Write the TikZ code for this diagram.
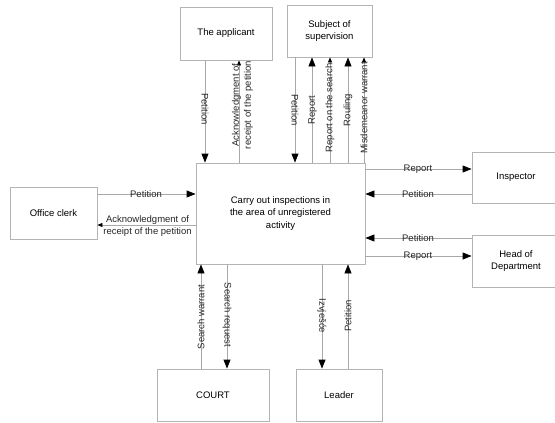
\documentclass[tikz,border=0pt]{standalone}
\usepackage{fontspec}
\setmainfont{Liberation Sans}
\usetikzlibrary{arrows.meta}
\definecolor{linegray}{HTML}{A8A8A8}
\definecolor{boxgray}{HTML}{B4B4B4}
\tikzset{
  box/.style={draw=boxgray, line width=0.8pt, fill=white, align=center, inner sep=0pt, font=\fontsize{9.5}{12.5}\selectfont},
  flow/.style={draw=linegray, line width=0.8pt, -{Triangle[length=9pt,width=7pt,fill=black,color=black]}},
  flowsmall/.style={draw=linegray, line width=0.8pt, -{Triangle[length=5pt,width=4pt,fill=black,color=black]}},
  lbl/.style={font=\fontsize{9.5}{12}\selectfont, inner sep=0pt, align=center, text=black!85},
}
\begin{document}
\begin{tikzpicture}[x=1pt,y=-1pt]
\useasboundingbox (0,0) rectangle (555,423);
\begin{scope}
\clip (0,0) rectangle (555,423);
\node[box, minimum width=92pt, minimum height=53pt] (applicant) at (226,33.5) {The applicant};
\node[box, minimum width=85pt, minimum height=52pt] (subject) at (329.5,31) {Subject of\\supervision};
\node[box, minimum width=169pt, minimum height=101pt] (central) at (280.5,213.5) {Carry out inspections in\\the area of unregistered\\activity};
\node[box, minimum width=87pt, minimum height=52pt] (clerk) at (53.5,213) {Office clerk};
\node[box, minimum width=88pt, minimum height=51pt] (inspector) at (516,177.5) {Inspector};
\node[box, minimum width=88pt, minimum height=52pt] (head) at (516,261) {Head of\\Department};
\node[box, minimum width=112pt, minimum height=52pt] (court) at (213,395) {COURT};
\node[box, minimum width=86pt, minimum height=52pt] (leader) at (339,395) {Leader};
\end{scope}

% applicant
\draw[flow] (applicant.south -| 205,0) -- (central.north -| 205,0);
\node[lbl, rotate=-90] (l1) at (205,109) {Petition};
\draw[flowsmall] (central.north -| 239,0) -- (applicant.south -| 239,0);
\node[lbl, rotate=90] (l2) at (242.5,105) {Acknowledgment of\\receipt of the petition};

% subject
\draw[flow] (subject.south -| 295,0) -- (central.north -| 295,0);
\node[lbl, rotate=-90] (l3) at (295,110) {Petition};
\draw[flow] (central.north -| 312,0) -- (subject.south -| 312,0);
\node[lbl, rotate=90] (l4) at (312.5,110) {Report};
\draw[flowsmall] (central.north -| 330,0) -- (subject.south -| 330,0);
\node[lbl, rotate=90] (l5) at (330,108) {Report on the search};
\draw[flow] (central.north -| 348,0) -- (subject.south -| 348,0);
\node[lbl, rotate=90] (l6) at (348,110) {Rouling};
\draw[flowsmall] (central.north -| 364,0) -- (subject.south -| 364,0);
\node[lbl, rotate=90] (l7) at (364,108) {Misdemeanor warrant};

% clerk
\draw[flow] (clerk.east |- 0,194) -- (central.west |- 0,194);
\node[lbl] (l8) at (146,194) {Petition};
\draw[flowsmall] (central.west |- 0,225) -- (clerk.east |- 0,225);
\node[lbl] (l9) at (147.5,226) {Acknowledgment of\\receipt of the petition};

% inspector
\draw[flow] (central.east |- 0,169) -- (inspector.west |- 0,169);
\node[lbl] (l10) at (418,169) {Report};
\draw[flow] (inspector.west |- 0,194) -- (central.east |- 0,194);
\node[lbl] (l11) at (418,194) {Petition};

% head
\draw[flow] (head.west |- 0,238) -- (central.east |- 0,238);
\node[lbl] (l12) at (418,238.5) {Petition};
\draw[flow] (central.east |- 0,256) -- (head.west |- 0,256);
\node[lbl] (l13) at (418,256) {Report};

% court
\draw[flow] (court.north -| 201,0) -- (central.south -| 201,0);
\node[lbl, rotate=90] (l14) at (201,317) {Search warrant};
\draw[flow] (central.south -| 227,0) -- (court.north -| 227,0);
\node[lbl, rotate=-90] (l15) at (227,315) {Search request};

% leader
\draw[flow] (central.south -| 322,0) -- (leader.north -| 322,0);
\node[lbl, rotate=-90] (l16) at (322,316) {Izvješće};
\draw[flow] (leader.north -| 348,0) -- (central.south -| 348,0);
\node[lbl, rotate=90] (l17) at (348,316) {Petition};
\end{tikzpicture}
\end{document}
